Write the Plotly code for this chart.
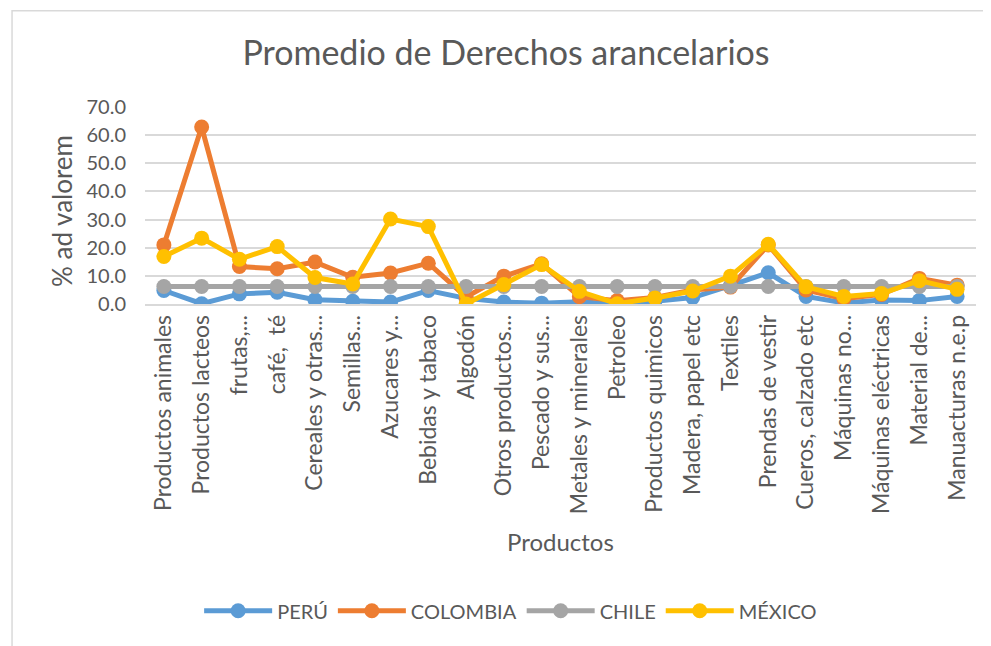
import plotly.graph_objects as go

categories = ["Productos animales", "Productos lacteos", "frutas,...", "café,  té",
              "Cereales y otras...", "Semillas...", "Azucares y...", "Bebidas y tabaco",
              "Algodón", "Otros productos...", "Pescado y sus...", "Metales y minerales",
              "Petroleo", "Productos quimicos", "Madera, papel etc", "Textiles",
              "Prendas de vestir", "Cueros, calzado etc", "Máquinas no...",
              "Máquinas eléctricas", "Material de...", "Manuacturas n.e.p"]

peru = [4.8, 0.1, 3.6, 4.2, 1.5, 1.0, 0.7, 4.8, 2.0, 0.7, 0.3, 0.8,
        0.0, 1.0, 2.3, 6.5, 11.1, 2.7, 0.4, 1.4, 1.2, 2.7]
colombia = [21.0, 62.9, 13.3, 12.5, 14.9, 9.5, 11.0, 14.5, 2.5, 9.9, 14.3, 2.6,
            1.2, 2.3, 5.0, 6.0, 21.0, 5.0, 1.9, 3.4, 9.1, 6.7]
chile = [6.2] * 22
mexico = [16.9, 23.4, 15.9, 20.4, 9.4, 7.1, 30.2, 27.5, 0.0, 6.9, 14.0, 4.5,
          0.1, 2.1, 4.6, 9.9, 21.2, 6.1, 2.7, 3.7, 8.3, 5.2]

series = [("PERÚ", peru, "#5B9BD5"), ("COLOMBIA", colombia, "#ED7D31"),
          ("CHILE", chile, "#A5A5A5"), ("MÉXICO", mexico, "#FFC000")]

fig = go.Figure()
for name, vals, col in series:
    fig.add_trace(go.Scatter(x=categories, y=vals, name=name, mode="lines+markers",
                             line=dict(color=col, width=5),
                             marker=dict(color=col, size=15)))

font_family = "Lato, 'Open Sans', sans-serif"
txt = "#595959"
fig.update_layout(
    width=991, height=646,
    paper_bgcolor="white", plot_bgcolor="white",
    margin=dict(l=137, r=23, t=99, b=350),
    font=dict(family=font_family, color=txt, size=19),
    title=dict(text="Promedio de Derechos arancelarios", x=0.5025, xanchor="center",
               y=0.930, yanchor="middle", font=dict(size=34, color=txt)),
    showlegend=True,
    legend=dict(orientation="h", x=0.44, xanchor="center", y=-1.557, yanchor="middle",
                font=dict(size=20, color=txt), itemwidth=68),
    xaxis=dict(type="category", range=[-0.5, 21.5], tickangle=-90, showgrid=False,
               showline=True, linecolor="#d9d9d9", linewidth=1.5, ticks="",
               tickfont=dict(size=23, color=txt), automargin=False),
    yaxis=dict(range=[0, 70], dtick=10, tickformat=".1f", showgrid=True,
               gridcolor="#d9d9d9", gridwidth=1.5, zeroline=False, showline=False,
               ticks="", tickfont=dict(size=20, color=txt), automargin=False,
               ticklabelstandoff=18),
    annotations=[
        dict(text="% ad valorem", xref="paper", yref="paper", x=-0.0999, y=0.472,
             xanchor="center", yanchor="middle", textangle=-90, showarrow=False,
             font=dict(size=26, color=txt)),
        dict(text="Productos", xref="paper", yref="paper", x=0.4994, y=-1.208,
             xanchor="center", yanchor="middle", showarrow=False,
             font=dict(size=24, color=txt)),
    ],
    shapes=[dict(type="rect", xref="paper", yref="paper", x0=-0.160, x1=1.05,
                 y0=-1.79, y1=1.489, line=dict(color="#d9d9d9", width=1.5),
                 fillcolor="rgba(0,0,0,0)", layer="below")],
)

fig.write_html("out.html")
